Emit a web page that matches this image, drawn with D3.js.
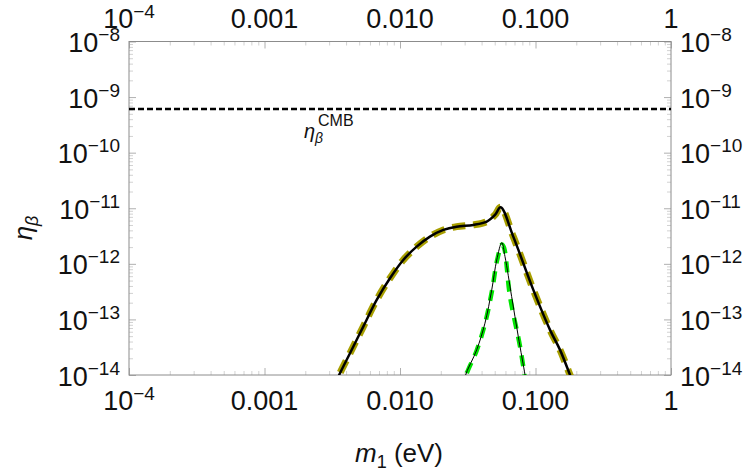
<!DOCTYPE html>
<html>
<head>
<meta charset="utf-8">
<script src="https://cdn.jsdelivr.net/npm/d3@7"></script>
<style>
  body { margin: 0; background: #fff; }
  svg { font-family: "Liberation Sans", Arial, sans-serif; }
</style>
</head>
<body>
<div id="chart"></div>
<script>
// ---- data ----
const xTicks = [1e-4, 1e-3, 1e-2, 1e-1, 1];
const xTickLabels = [["10", "\u22124"], ["0.001"], ["0.010"], ["0.100"], ["1"]];
const yTicks = [1e-8, 1e-9, 1e-10, 1e-11, 1e-12, 1e-13, 1e-14];
const yTickExp = ["\u22128", "\u22129", "\u221210", "\u221211", "\u221212", "\u221213", "\u221214"];

const etaCMB = 6.1e-10;

// total eta (thick black, olive dashed overlay), log10 values
const totalLogM   = [-2.50, -2.455, -2.369, -2.271, -2.172, -2.074, -1.976, -1.877, -1.779, -1.680, -1.582, -1.459, -1.360, -1.299, -1.257, -1.164, -1.016, -0.893, -0.819, -0.745, -0.72];
const totalLogEta = [-14.3, -14.03, -13.608, -13.129, -12.649, -12.259, -11.930, -11.691, -11.511, -11.390, -11.331, -11.300, -11.241, -11.120, -10.982, -11.511, -12.469, -13.188, -13.548, -14.0, -14.15];

// thin black contribution
const thinLogM   = [-1.535, -1.520, -1.434, -1.373, -1.323, -1.286, -1.249, -1.225, -1.176, -1.127, -1.077, -1.07];
const thinLogEta = [-14.3, -14.03, -13.548, -13.068, -12.469, -11.930, -11.619, -11.871, -12.590, -13.309, -14.0, -14.1];

// green dashed approximation
const greenLogM   = [-1.53, -1.515, -1.434, -1.373, -1.320, -1.283, -1.247, -1.232, -1.188, -1.114, -1.081, -1.075];
const greenLogEta = [-14.3, -14.03, -13.560, -13.080, -12.470, -11.930, -11.650, -11.710, -12.590, -13.489, -14.0, -14.1];

// ---- layout ----
const W = 750, H = 471;
const margin = {t: 41.5, r: 79, b: 96, l: 129};
const w = W - margin.l - margin.r;
const h = H - margin.t - margin.b;

const svg = d3.select('#chart').append('svg')
  .attr('width', W)
  .attr('height', H);

const scaleX = d3.scaleLog().domain([1e-4, 1]).range([0, w]);
const scaleY = d3.scaleLog().domain([1e-14, 1e-8]).range([h, 0]);

svg.append('defs').append('clipPath').attr('id', 'clip')
  .append('rect').attr('width', w).attr('height', h);

const plot = svg.append('g')
  .attr('class', 'plot')
  .attr('transform', `translate(${margin.l},${margin.t})`);

// ---- ticks (inside the frame, mathematica style) ----
const minorX = [];
for (let e = -4; e < 0; e++) for (let k = 2; k <= 9; k++) minorX.push(k * Math.pow(10, e));
const minorY = [];
for (let e = -14; e < -8; e++) for (let k = 2; k <= 9; k++) minorY.push(k * Math.pow(10, e));

function tickAxis(axis, vals, size, cls, tr) {
  const g = plot.append('g').attr('class', cls).attr('transform', tr)
    .call(axis.tickValues(vals).tickSize(size).tickFormat(''));
  g.select('.domain').remove();
  g.selectAll('line').attr('stroke', cls.includes('minor') ? '#d2d2d2' : '#b0b0b0');
}
tickAxis(d3.axisBottom(scaleX), minorX, -4, 'minor', `translate(0,${h})`);
tickAxis(d3.axisTop(scaleX), minorX, -4, 'minor', 'translate(0,0)');
tickAxis(d3.axisLeft(scaleY), minorY, -4, 'minor', 'translate(0,0)');
tickAxis(d3.axisRight(scaleY), minorY, -4, 'minor', `translate(${w},0)`);
tickAxis(d3.axisBottom(scaleX), xTicks, -7, 'major', `translate(0,${h})`);
tickAxis(d3.axisTop(scaleX), xTicks, -7, 'major', 'translate(0,0)');
tickAxis(d3.axisLeft(scaleY), yTicks, -7, 'major', 'translate(0,0)');
tickAxis(d3.axisRight(scaleY), yTicks, -7, 'major', `translate(${w},0)`);

// frame
plot.append('rect')
  .attr('width', w).attr('height', h)
  .attr('fill', 'none')
  .attr('stroke', '#8c8c8c')
  .attr('stroke-width', 1);

// ---- tick labels ----
const fs = 27, fsSup = 19;

function addX(y) {
  xTicks.forEach((v, i) => {
    const t = svg.append('text')
      .attr('x', margin.l + scaleX(v))
      .attr('y', y)
      .attr('text-anchor', 'middle')
      .style('font-size', fs + 'px')
      .attr('fill', '#111');
    const lab = xTickLabels[i];
    t.append('tspan').text(lab[0]);
    if (lab[1]) t.append('tspan').attr('dy', -10).style('font-size', fsSup + 'px').text(lab[1]);
  });
}
addX(28);
addX(410);

function addY(x, anchor) {
  yTicks.forEach((v, i) => {
    const t = svg.append('text')
      .attr('x', x)
      .attr('y', margin.t + scaleY(v) + 10.5)
      .attr('text-anchor', anchor)
      .style('font-size', fs + 'px')
      .attr('fill', '#111');
    t.append('tspan').text('10');
    t.append('tspan').attr('dy', -11).style('font-size', fsSup + 'px').text(yTickExp[i]);
  });
}
addY(120, 'end');
addY(680, 'start');

// axis titles
const xt = svg.append('text')
  .attr('x', 399).attr('y', 462)
  .attr('text-anchor', 'middle')
  .style('font-size', '26px')
  .attr('fill', '#111');
xt.append('tspan').style('font-style', 'italic').text('m');
xt.append('tspan').attr('dy', 6).style('font-size', '18px').text('1');
xt.append('tspan').attr('dy', -6).text(' (eV)');

const yt = svg.append('text')
  .attr('transform', 'translate(32,228) rotate(-90)')
  .attr('text-anchor', 'middle')
  .style('font-size', '26px')
  .attr('fill', '#111');
yt.append('tspan').style('font-style', 'italic').text('\u03B7');
yt.append('tspan').attr('dy', 6).style('font-size', '18px').style('font-style', 'italic').text('\u03B2');

// ---- curves ----
const curves = plot.append('g').attr('clip-path', 'url(#clip)');

const line = d3.line()
  .x(d => scaleX(Math.pow(10, d[0])))
  .y(d => scaleY(Math.pow(10, d[1])))
  .curve(d3.curveCatmullRom.alpha(0.5));

const totalData = d3.zip(totalLogM, totalLogEta);
const thinData = d3.zip(thinLogM, thinLogEta);
const greenData = d3.zip(greenLogM, greenLogEta);

// CMB line
curves.append('line')
  .attr('x1', 0).attr('x2', w)
  .attr('y1', scaleY(etaCMB)).attr('y2', scaleY(etaCMB))
  .attr('stroke', '#000')
  .attr('stroke-width', 2.5)
  .attr('stroke-dasharray', '6,3');

curves.append('path')
  .datum(totalData)
  .attr('d', line)
  .attr('fill', 'none')
  .attr('stroke', '#a89f00')
  .attr('stroke-width', 7)
  .attr('stroke-dasharray', '13,8');

curves.append('path')
  .datum(greenData)
  .attr('d', line)
  .attr('fill', 'none')
  .attr('stroke', '#00e600')
  .attr('stroke-width', 4.5)
  .attr('stroke-dasharray', '11,8');

curves.append('path')
  .datum(totalData)
  .attr('d', line)
  .attr('fill', 'none')
  .attr('stroke', '#000')
  .attr('stroke-width', 2.5);

curves.append('path')
  .datum(thinData)
  .attr('d', line)
  .attr('fill', 'none')
  .attr('stroke', '#000')
  .attr('stroke-width', 1);

// CMB label
const cl = svg.append('text')
  .attr('x', 304).attr('y', 138)
  .style('font-size', '20px')
  .attr('fill', '#111');
cl.append('tspan').style('font-style', 'italic').text('\u03B7');
cl.append('tspan').attr('dy', 5).style('font-size', '14px').style('font-style', 'italic').text('\u03B2');
cl.append('tspan').attr('x', 318).attr('y', 126).style('font-size', '16px').text('CMB');
</script>
</body>
</html>
